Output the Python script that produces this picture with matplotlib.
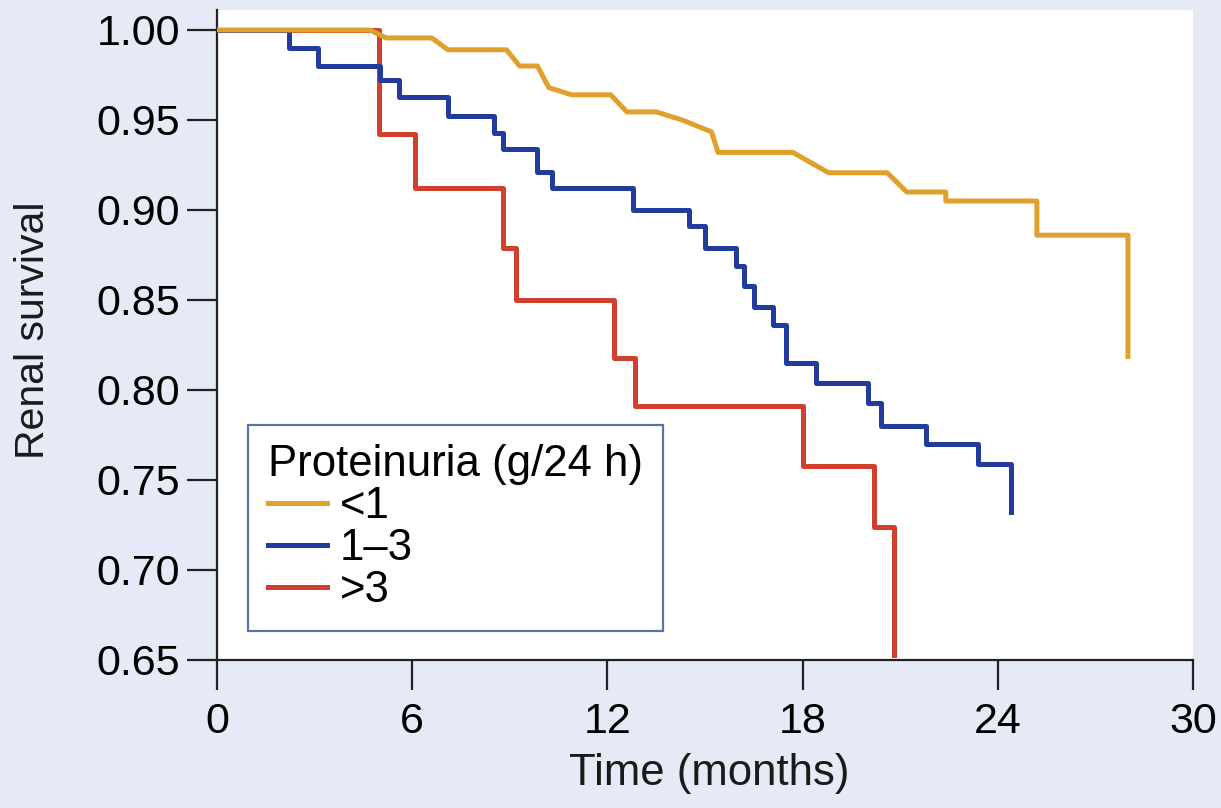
import numpy as np
import matplotlib
matplotlib.use("Agg")
import matplotlib.pyplot as plt

# Kaplan-Meier style renal survival
t_low = [0, 4.7, 5.2, 6.6, 7.1, 8.9, 9.3, 9.85, 10.2, 10.9, 12.1, 12.6, 13.5, 14.3, 15.2, 15.4,
         17.7, 18.8, 20.6, 21.2, 22.4, 22.4, 25.2, 25.2, 28.0, 28.0]
s_low = [1.0, 1.0, 0.9956, 0.9956, 0.989, 0.989, 0.980, 0.980, 0.968, 0.964, 0.964, 0.9545, 0.9545,
         0.950, 0.9434, 0.932, 0.932, 0.9207, 0.9207, 0.910, 0.910, 0.905, 0.905, 0.886, 0.886, 0.8186]

t_mid = [0, 2.2, 3.1, 5.0, 5.6, 7.1, 8.5, 8.8, 9.85, 10.3, 12.8, 14.5, 15.0, 15.95, 16.2, 16.5,
         17.1, 17.5, 18.4, 20.0, 20.4, 21.8, 23.4, 24.4]
s_mid = [1.0, 0.990, 0.980, 0.972, 0.963, 0.952, 0.943, 0.934, 0.921, 0.912, 0.900, 0.891, 0.879,
         0.869, 0.858, 0.846, 0.836, 0.815, 0.804, 0.793, 0.780, 0.770, 0.759, 0.732]

t_high = [0, 4.97, 6.1, 8.8, 9.2, 12.2, 12.85, 18.0, 20.2, 20.8]
s_high = [1.0, 0.942, 0.912, 0.879, 0.850, 0.818, 0.791, 0.758, 0.724, 0.653]

labels = ["<1", "1\u20133", ">3"]
xticks = [0, 6, 12, 18, 24, 30]
yticks = [0.65, 0.70, 0.75, 0.80, 0.85, 0.90, 0.95, 1.00]

bg = "#e6e9f6"
c_low = "#e0a12c"
c_mid = "#213c9c"
c_high = "#d1402f"

plt.rcParams["font.family"] = ["Liberation Sans", "DejaVu Sans"]
narrow = ["Liberation Sans Narrow", "Liberation Sans", "DejaVu Sans"]

fig = plt.figure(figsize=(12.21, 8.08), dpi=100, facecolor=bg)
ax = fig.add_axes([0.1777, 0.1832, 0.7994, 0.8044])
ax.set_facecolor("white")

lw = 3.6
ax.step(t_high, s_high, where="post", color=c_high, lw=lw, zorder=2)
ax.step(t_mid, s_mid, where="post", color=c_mid, lw=lw, zorder=3)
ax.plot(t_low, s_low, color=c_low, lw=lw, zorder=4)

ax.set_xlim(0, 30)
ax.set_ylim(0.65, 1.0111)
ax.set_xticks(xticks)
ax.set_yticks(yticks)
ax.set_yticklabels([f"{v:.2f}" for v in yticks])
ax.tick_params(direction="out", length=21.5, width=1.6, labelsize=31, color="#222222")
ax.tick_params(axis="y", pad=5)
ax.tick_params(axis="x", pad=9)
for side in ["top", "right"]:
    ax.spines[side].set_visible(False)
for side in ["left", "bottom"]:
    ax.spines[side].set_linewidth(1.6)
    ax.spines[side].set_color("#222222")

fig.text(0.5807, 0.043, "Time (months)", ha="center", va="center", fontsize=31.5, family=narrow, color="#1a1a1a")
fig.text(0.027, 0.591, "Renal survival", ha="center", va="center", rotation=90, fontsize=29.5, family=narrow,
         color="#1a1a1a")

handles = [plt.Line2D([], [], color=c, lw=lw) for c in [c_low, c_mid, c_high]]
leg = ax.legend(handles, labels, title="Proteinuria (g/24 h)", loc="lower left",
                bbox_to_anchor=(0.032, 0.045), borderaxespad=0, fontsize=31.5, title_fontsize=31.5,
                alignment="left", frameon=True, fancybox=False, handlelength=1.35, handletextpad=0.3,
                labelspacing=0.02, borderpad=0.45, framealpha=1)
leg.get_frame().set_edgecolor("#5577a0")
leg.get_frame().set_linewidth(1.6)
leg.set_zorder(5)

plt.savefig("out.png", dpi=100, facecolor=bg)
